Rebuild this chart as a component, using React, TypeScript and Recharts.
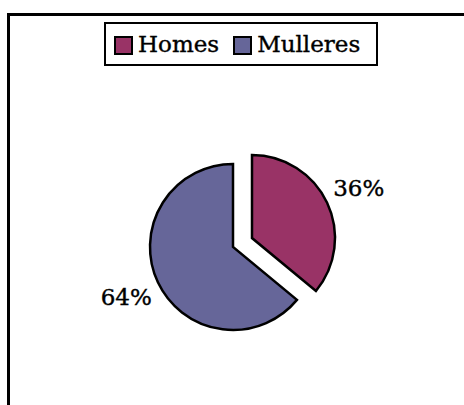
import React from "react";
import { PieChart, Pie, Cell, Legend } from "recharts";

const categories = ["Homes", "Mulleres"];
const values = [36, 64];
const colors = ["#993366", "#666699"];
const explodedIndex = 0;

const FONT = "'DejaVu Serif', serif";
const RAD = Math.PI / 180;
const CX = 233;
const CY = 247;
const R = 83;
const EXPLODE = 21;
const LABEL_R = 118;

const data = categories.map((name, i) => ({ name, value: values[i] }));

const total = values.reduce((a, b) => a + b, 0);
const before = values.slice(0, explodedIndex).reduce((a, b) => a + b, 0);
const midAngle = 90 - (360 * (before + values[explodedIndex] / 2)) / total;
const exCx = CX + EXPLODE * Math.cos(midAngle * RAD);
const exCy = CY - EXPLODE * Math.sin(midAngle * RAD);

const makeLabel = (visibleIndex: number) => (props: any) => {
  if (props.index !== visibleIndex) return null;
  const { cx, cy, midAngle: ma, percent } = props;
  const x = cx + LABEL_R * Math.cos(-ma * RAD);
  const y = cy + LABEL_R * Math.sin(-ma * RAD);
  return (
    <text
      x={x}
      y={y}
      textAnchor="middle"
      dominantBaseline="central"
      fontFamily={FONT}
      fontSize={23}
      fill="#000"
      stroke="#000"
      strokeWidth={0.4}
    >
      {`${Math.round(percent * 100)}%`}
    </text>
  );
};

const LegendBox = () => (
  <div
    style={{
      boxSizing: "border-box",
      width: 274,
      height: 44,
      border: "2.5px solid #000",
      background: "#fff",
      display: "flex",
      alignItems: "center",
      paddingLeft: 8,
      fontFamily: FONT,
      fontSize: 23,
      color: "#000",
      WebkitTextStroke: "0.4px #000",
    }}
  >
    {categories.map((c, i) => (
      <div
        key={c}
        style={{ display: "flex", alignItems: "center", marginRight: i === 0 ? 14 : 0 }}
      >
        <span
          style={{
            display: "inline-block",
            boxSizing: "border-box",
            width: 19,
            height: 19,
            border: "2.5px solid #000",
            background: colors[i],
            marginRight: 5,
            marginTop: 2,
          }}
        />
        <span>{c}</span>
      </div>
    ))}
  </div>
);

export default function App() {
  return (
    <div style={{ position: "fixed", left: 0, top: 0, width: 464, height: 405, background: "#fff" }}>
      <div
        style={{
          position: "absolute",
          left: 7,
          top: 13,
          width: 457,
          height: 392,
          boxSizing: "border-box",
          borderTop: "3px solid #000",
          borderLeft: "3px solid #000",
        }}
      />
      <div style={{ position: "absolute", left: 0, top: 0 }}>
        <PieChart width={464} height={405} margin={{ top: 0, right: 0, bottom: 0, left: 0 }}>
          <Legend
            verticalAlign="middle"
            align="center"
            layout="horizontal"
            content={() => <LegendBox />}
            wrapperStyle={{ position: "absolute", left: 104, top: 22, width: 274, height: 44 }}
          />
          <Pie
            data={data}
            dataKey="value"
            nameKey="name"
            cx={CX}
            cy={CY}
            outerRadius={R}
            startAngle={90}
            endAngle={-270}
            stroke="#000"
            strokeWidth={2.5}
            isAnimationActive={false}
            labelLine={false}
            label={makeLabel(1)}
            legendType="none"
          >
            {data.map((d, i) => (
              <Cell
                key={d.name}
                fill={i === explodedIndex ? "none" : colors[i]}
                stroke={i === explodedIndex ? "none" : "#000"}
              />
            ))}
          </Pie>
          <Pie
            data={data}
            dataKey="value"
            nameKey="name"
            cx={exCx}
            cy={exCy}
            outerRadius={R}
            startAngle={90}
            endAngle={-270}
            stroke="#000"
            strokeWidth={2.5}
            isAnimationActive={false}
            labelLine={false}
            label={makeLabel(explodedIndex)}
            legendType="none"
          >
            {data.map((d, i) => (
              <Cell
                key={d.name}
                fill={i === explodedIndex ? colors[i] : "none"}
                stroke={i === explodedIndex ? "#000" : "none"}
              />
            ))}
          </Pie>
        </PieChart>
      </div>
    </div>
  );
}
